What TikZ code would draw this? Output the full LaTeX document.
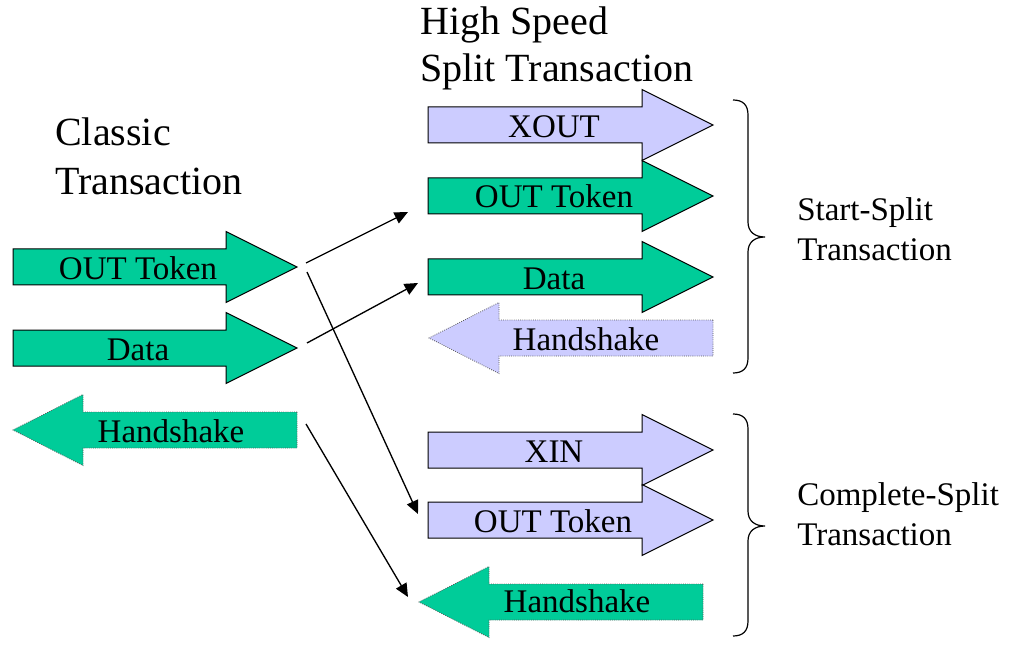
\documentclass[tikz,border=0pt]{standalone}
\usepackage{fontspec}
\setmainfont{Liberation Serif}
\newfontfamily\tnr{Liberation Serif}
\usetikzlibrary{arrows.meta}

\definecolor{tokgreen}{RGB}{0,204,153}
\definecolor{splitlav}{RGB}{204,204,255}

% right-pointing block arrow: style, left x, centre y, head base x, tip x
\newcommand\blockright[5]{%
  \draw[#1] (#2,#3-18) -- (#4,#3-18) -- (#4,#3-35.5) -- (#5,#3)
    -- (#4,#3+35.5) -- (#4,#3+18) -- (#2,#3+18) -- cycle;}
% left-pointing block arrow: style, right x, centre y, head base x, tip x
\newcommand\blockleft[5]{%
  \draw[#1] (#2,#3-18) -- (#4,#3-18) -- (#4,#3-35.5) -- (#5,#3)
    -- (#4,#3+35.5) -- (#4,#3+18) -- (#2,#3+18) -- cycle;}

\tikzset{
  solidgreen/.style={fill=tokgreen, draw=black, line width=0.75pt},
  solidlav/.style={fill=splitlav, draw=black, line width=0.75pt},
  dotgreen/.style={fill=tokgreen, draw=black!65, densely dotted, line width=0.6pt},
  dotlav/.style={fill=splitlav, draw=black!65, densely dotted, line width=0.6pt},
  lbl/.style={anchor=base, inner sep=0pt, font=\tnr\fontsize{24.75}{29}\selectfont},
  title/.style={anchor=north west, inner sep=0pt, align=left},
  link/.style={draw=black, line width=1pt, -{Triangle[length=10pt,width=9pt]}},
  brace/.style={draw=black, line width=0.9pt}
}

\begin{document}
\begin{tikzpicture}[x=0.75pt, y=-0.75pt]
\useasboundingbox (0,0) rectangle (1010,645);

% headings
\node[title, font=\tnr\fontsize{30}{36.75}\selectfont] (classic) at (55,117) {Classic\\Transaction};
\node[title, font=\tnr\fontsize{30}{35.25}\selectfont] (hs) at (420,6) {High Speed\\Split Transaction};

% classic transaction
\blockright{solidgreen}{13}{267}{226}{297}
\blockright{solidgreen}{13}{348}{226}{297}
\blockleft{dotgreen}{297}{430}{83}{13}
\node[lbl] (cOut) at (138,280) {OUT Token};
\node[lbl] (cData) at (138,360) {Data};
\node[lbl] (cHs) at (171,442) {Handshake};

% start-split transaction
\blockright{solidlav}{428}{125}{642}{713}
\blockright{solidgreen}{428}{196}{642}{713}
\blockright{solidgreen}{428}{277}{642}{713}
\blockleft{dotlav}{713}{338}{499}{429}
\node[lbl] (sXout) at (554,138) {XOUT};
\node[lbl] (sOut) at (554,208) {OUT Token};
\node[lbl] (sData) at (554,290) {Data};
\node[lbl] (sHs) at (586,350) {Handshake};

% complete-split transaction
\blockright{solidlav}{428}{450}{642}{713}
\blockright{solidlav}{428}{520}{642}{713}
\blockleft{dotgreen}{703}{602}{489}{419}
\node[lbl] (xXin) at (554,462) {XIN};
\node[lbl] (xOut) at (553,532) {OUT Token};
\node[lbl] (xHs) at (577,612) {Handshake};

% braces
\draw[brace] (733,100) .. controls (743,100) and (748,105) .. (748,115)
  -- (748,222) .. controls (748,232) and (755,237) .. (765,237)
  .. controls (755,237) and (748,242) .. (748,252)
  -- (748,358) .. controls (748,368) and (743,373) .. (733,373);
\draw[brace] (733,414) .. controls (743,414) and (748,419) .. (748,429)
  -- (748,511) .. controls (748,521) and (755,526) .. (765,526)
  .. controls (755,526) and (748,531) .. (748,541)
  -- (748,621) .. controls (748,631) and (743,636) .. (733,636);

\node[title, font=\tnr\fontsize{24.75}{30}\selectfont] (ssLbl) at (797,197) {Start-Split\\Transaction};
\node[title, font=\tnr\fontsize{24.75}{30}\selectfont] (csLbl) at (797,482) {Complete-Split\\Transaction};

% connector end points
\coordinate (a1) at (306,263);
\coordinate (a2) at (307,272);
\coordinate (a3) at (307,343);
\coordinate (a4) at (306,424);
\coordinate (b1) at (408,212);
\coordinate (b2) at (418,514);
\coordinate (b3) at (418,283);
\coordinate (b4) at (408,597);

\draw[link] (a1) -- (b1);
\draw[link] (a2) -- (b2);
\draw[link] (a3) -- (b3);
\draw[link] (a4) -- (b4);
\end{tikzpicture}
\end{document}
